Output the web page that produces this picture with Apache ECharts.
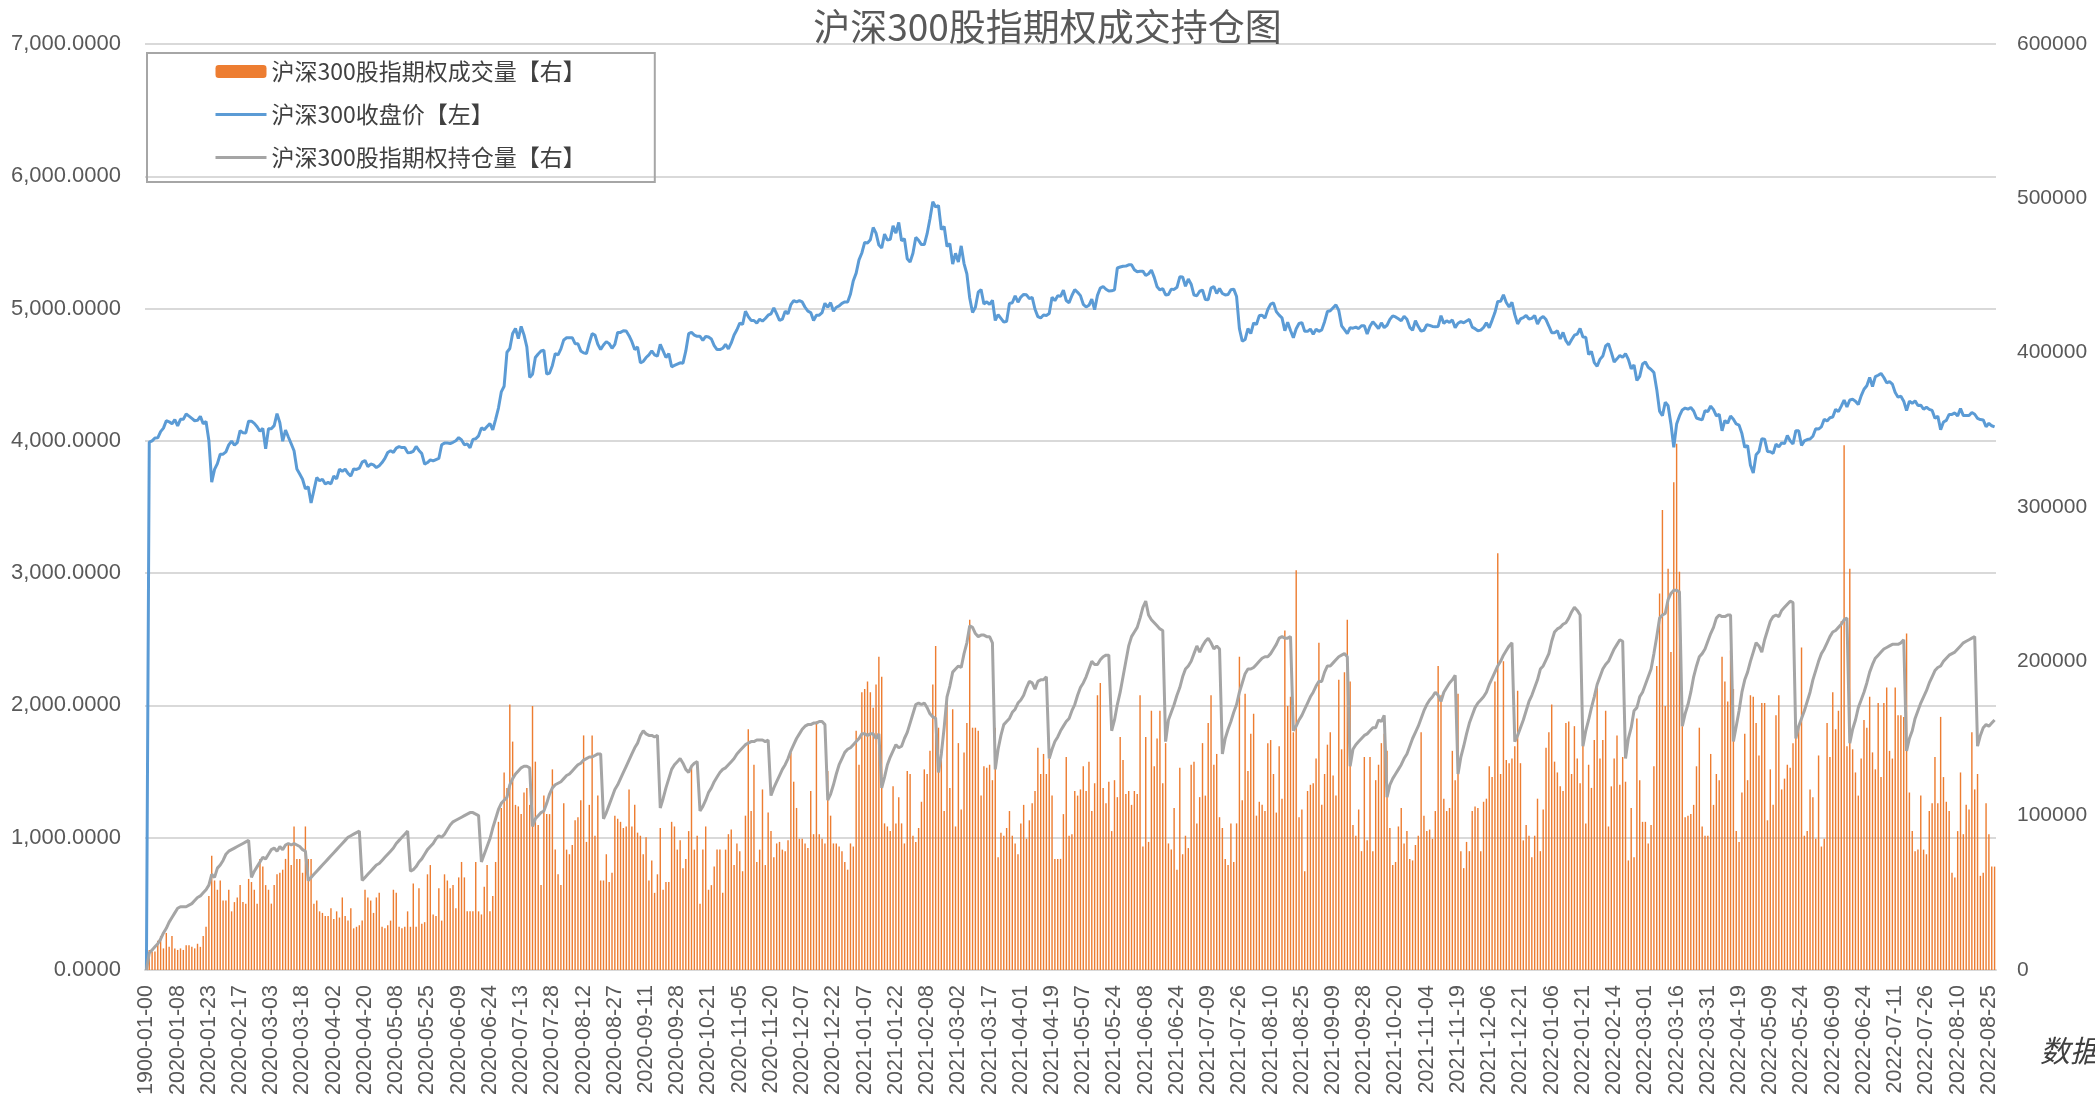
<!DOCTYPE html>
<html>
<head>
<meta charset="utf-8">
<title>沪深300股指期权成交持仓图</title>
<script src="https://cdn.jsdelivr.net/npm/echarts@6/dist/echarts.min.js"></script>
<style>
  html, body { margin: 0; padding: 0; background: #fff; }
  #chart { width: 2095px; height: 1099px; }
</style>
</head>
<body>
<div id="chart"></div>
<script>
// 交易日历：第一行是表里的空行 1900-01-00，之后从 2019-12-24 起的交易日
const firstLabel = '1900-01-00'
const startDay = '2019-12-24'
const holidays = [
  '2020-01-01', '2020-01-24', '2020-01-27', '2020-01-28', '2020-01-29', '2020-01-30', '2020-01-31',
  '2020-04-06', '2020-05-01', '2020-05-04', '2020-05-05', '2020-06-25', '2020-06-26',
  '2020-10-01', '2020-10-02', '2020-10-05', '2020-10-06', '2020-10-07', '2020-10-08',
  '2021-01-01', '2021-02-11', '2021-02-12', '2021-02-15', '2021-02-16', '2021-02-17',
  '2021-04-05', '2021-05-03', '2021-05-04', '2021-05-05', '2021-06-14', '2021-09-20', '2021-09-21',
  '2021-10-01', '2021-10-04', '2021-10-05', '2021-10-06', '2021-10-07',
  '2022-01-03', '2022-01-31', '2022-02-01', '2022-02-02', '2022-02-03', '2022-02-04',
  '2022-04-04', '2022-04-05', '2022-05-02', '2022-05-03', '2022-05-04', '2022-06-03'
]

// 沪深300收盘价【左】
const closePrice = [
  0, 3990, 4000, 4022, 4023, 4070, 4096, 4152, 4144, 4129,
  4160, 4113, 4163, 4164, 4203, 4187, 4170, 4152, 4155, 4185,
  4129, 4146, 4003, 3688, 3784, 3828, 3899, 3899, 3917, 3970,
  3998, 3967, 3987, 4077, 4061, 4060, 4149, 4149, 4132, 4107,
  4073, 4094, 3940, 4091, 4092, 4115, 4206, 4138, 3997, 4082,
  4029, 3978, 3925, 3787, 3749, 3710, 3637, 3653, 3530, 3626,
  3723, 3698, 3710, 3674, 3686, 3675, 3734, 3713, 3786, 3769,
  3786, 3754, 3734, 3788, 3784, 3794, 3839, 3852, 3806, 3825,
  3818, 3798, 3812, 3836, 3867, 3912, 3925, 3913, 3945, 3956,
  3949, 3950, 3911, 3912, 3921, 3958, 3928, 3904, 3824, 3836,
  3856, 3848, 3858, 3867, 3971, 3983, 3983, 3980, 3989, 4001,
  4025, 4007, 3970, 3977, 3948, 4011, 4016, 4038, 4098, 4085,
  4108, 4130, 4084, 4163, 4248, 4370, 4413, 4670, 4698, 4812,
  4850, 4773, 4865, 4801, 4710, 4480, 4503, 4630, 4657, 4679,
  4685, 4505, 4513, 4570, 4660, 4650, 4695, 4763, 4779, 4780,
  4780, 4735, 4734, 4680, 4665, 4660, 4740, 4810, 4800, 4730,
  4690, 4725, 4750, 4735, 4700, 4730, 4820, 4820, 4832, 4830,
  4795, 4750, 4690, 4710, 4590, 4600, 4630, 4650, 4680, 4650,
  4640, 4730, 4680, 4630, 4660, 4560, 4570, 4580, 4590, 4587,
  4680, 4810, 4820, 4800, 4790, 4790, 4760, 4790, 4785, 4770,
  4720, 4690, 4690, 4700, 4730, 4695, 4740, 4800, 4840, 4890,
  4880, 4980, 4940, 4910, 4910, 4890, 4920, 4905, 4925, 4950,
  4960, 5005, 4960, 4910, 4920, 4980, 4960, 5030, 5060, 5050,
  5060, 5050, 5010, 4980, 4970, 4910, 4950, 4950, 4970, 5040,
  5010, 5045, 4980, 5010, 5020, 5040, 5050, 5050, 5110, 5211,
  5268, 5368, 5420, 5500, 5496, 5520, 5613, 5570, 5480, 5458,
  5563, 5517, 5523, 5625, 5570, 5651, 5512, 5528, 5377, 5351,
  5418, 5538, 5516, 5484, 5484, 5566, 5679, 5808, 5768, 5779,
  5597, 5620, 5469, 5491, 5336, 5418, 5352, 5474, 5340, 5262,
  5080, 4970, 5010, 5124, 5143, 5035, 5051, 5031, 5063, 4910,
  4955, 4926, 4897, 4904, 5038, 5044, 5097, 5048, 5087, 5107,
  5104, 5076, 5085, 4995, 4939, 4929, 4951, 4948, 4963, 5085,
  5060, 5097, 5092, 5140, 5061, 5044, 5099, 5143, 5123, 5098,
  5032, 5012, 5025, 5072, 4992, 5100, 5155, 5167, 5146, 5133,
  5134, 5142, 5307, 5314, 5320, 5321, 5331, 5331, 5294, 5278,
  5282, 5283, 5250, 5263, 5291, 5236, 5165, 5141, 5150, 5103,
  5107, 5147, 5145, 5161, 5240, 5239, 5169, 5224, 5184, 5102,
  5097, 5131, 5140, 5069, 5067, 5155, 5167, 5114, 5152, 5114,
  5103, 5107, 5142, 5147, 5091, 4848, 4753, 4766, 4849, 4811,
  4891, 4880, 4947, 4950, 4928, 4993, 5034, 5043, 4977, 4950,
  4930, 4833, 4896, 4834, 4779, 4847, 4887, 4894, 4829, 4828,
  4845, 4805, 4844, 4828, 4839, 4901, 4978, 4984, 5006, 5028,
  4986, 4870, 4840, 4810, 4855, 4852, 4860, 4849, 4870, 4870,
  4808, 4866, 4900, 4876, 4848, 4892, 4856, 4874, 4918, 4945,
  4937, 4923, 4908, 4942, 4919, 4858, 4836, 4908, 4864, 4829,
  4836, 4878, 4873, 4865, 4863, 4865, 4946, 4888, 4908, 4895,
  4914, 4856, 4889, 4901, 4893, 4906, 4918, 4860, 4848, 4833,
  4837, 4857, 4892, 4856, 4911, 4970, 5054, 5055, 5104, 5046,
  5012, 5047, 4954, 4884, 4922, 4931, 4948, 4921, 4926, 4948,
  4883, 4925, 4940, 4917, 4868, 4818, 4818, 4832, 4770, 4820,
  4757, 4726, 4764, 4799, 4807, 4850, 4785, 4784, 4653, 4676,
  4591, 4564, 4616, 4641, 4717, 4735, 4669, 4596, 4620, 4646,
  4631, 4660, 4616, 4545, 4574, 4457, 4488, 4581, 4596, 4556,
  4540, 4517, 4389, 4225, 4190, 4292, 4265, 4128, 3951, 4127,
  4188, 4234, 4248, 4239, 4252, 4226, 4173, 4165, 4159, 4228,
  4222, 4263, 4236, 4189, 4201, 4076, 4154, 4134, 4188, 4164,
  4128, 4119, 4055, 3951, 3966, 3815, 3757, 3895, 3919, 4016,
  4013, 3920, 3918, 3905, 3975, 3955, 3985, 3979, 4040, 4001,
  3976, 4077, 4077, 3965, 4000, 4010, 4014, 4035, 4091, 4090,
  4106, 4164, 4150, 4175, 4180, 4238, 4221, 4263, 4308, 4257,
  4309, 4314, 4300, 4274, 4340, 4390, 4417, 4480, 4411, 4485,
  4496, 4510, 4479, 4438, 4448, 4429, 4365, 4330, 4338, 4300,
  4229, 4300, 4284, 4302, 4267, 4270, 4239, 4254, 4238, 4230,
  4170, 4187, 4085, 4143, 4155, 4200, 4200, 4211, 4189, 4245,
  4191, 4191, 4191, 4214, 4201, 4170, 4161, 4158, 4107, 4133,
  4114, 4106
]

// 沪深300股指期权成交量【右】，单位：千张
const volumeK = [
  0, 13, 12, 12, 19, 22, 14, 24, 15, 22,
  14, 13, 14, 13, 16, 16, 15, 14, 17, 15,
  22, 28, 48, 74, 58, 52, 58, 45, 45, 52,
  38, 44, 47, 55, 44, 43, 59, 57, 52, 43,
  72, 67, 55, 52, 43, 55, 62, 63, 65, 72,
  82, 68, 93, 72, 72, 63, 93, 72, 72, 43,
  45, 38, 37, 35, 35, 40, 33, 38, 34, 47,
  35, 32, 40, 27, 28, 29, 32, 52, 47, 45,
  37, 47, 50, 28, 27, 29, 32, 52, 50, 28,
  27, 28, 38, 28, 56, 28, 53, 30, 31, 62,
  68, 36, 35, 53, 32, 62, 58, 53, 55, 40,
  60, 70, 60, 38, 38, 38, 70, 38, 36, 54,
  68, 38, 48, 70, 96, 105, 128, 118, 172, 148,
  107, 106, 101, 115, 118, 107, 171, 135, 94, 55,
  113, 101, 101, 130, 78, 62, 55, 108, 78, 75,
  81, 97, 99, 110, 152, 83, 107, 152, 87, 113,
  58, 58, 75, 57, 63, 100, 98, 96, 92, 93,
  117, 93, 107, 89, 87, 75, 86, 58, 71, 50,
  62, 92, 52, 57, 57, 96, 93, 78, 84, 66,
  72, 90, 132, 78, 87, 43, 78, 93, 52, 55,
  67, 78, 78, 50, 78, 88, 91, 68, 82, 77,
  64, 100, 156, 103, 133, 70, 78, 117, 68, 102,
  90, 73, 82, 83, 78, 77, 84, 141, 122, 105,
  85, 85, 82, 79, 116, 88, 161, 88, 85, 82,
  129, 100, 82, 82, 80, 77, 70, 65, 82, 80,
  155, 133, 180, 182, 187, 180, 170, 185, 203, 190,
  95, 93, 90, 119, 95, 112, 95, 82, 129, 127,
  87, 83, 92, 109, 130, 127, 142, 185, 210, 157,
  143, 103, 178, 118, 169, 93, 147, 104, 141, 160,
  227, 157, 157, 155, 113, 132, 131, 133, 123, 157,
  73, 89, 87, 92, 103, 87, 82, 75, 95, 107,
  85, 97, 108, 116, 144, 127, 140, 127, 137, 113,
  72, 72, 72, 101, 138, 87, 88, 116, 113, 117,
  132, 116, 135, 103, 121, 178, 186, 118, 108, 122,
  90, 123, 112, 151, 136, 114, 116, 107, 116, 114,
  178, 80, 151, 83, 168, 132, 150, 168, 121, 147,
  82, 78, 105, 65, 131, 75, 87, 79, 133, 135,
  95, 112, 147, 113, 160, 178, 133, 140, 99, 92,
  72, 68, 95, 70, 95, 203, 110, 179, 129, 153,
  166, 100, 109, 107, 103, 147, 149, 127, 102, 145,
  111, 220, 171, 177, 154, 259, 99, 104, 64, 116,
  120, 121, 137, 212, 107, 127, 146, 154, 126, 113,
  188, 143, 193, 227, 187, 94, 87, 104, 77, 138,
  84, 138, 77, 123, 133, 147, 153, 142, 92, 68,
  70, 93, 105, 82, 90, 72, 71, 81, 87, 154,
  100, 90, 91, 85, 103, 197, 178, 111, 103, 105,
  142, 123, 179, 77, 66, 83, 77, 103, 106, 105,
  77, 109, 111, 132, 125, 187, 270, 127, 200, 136,
  134, 137, 145, 181, 134, 84, 94, 87, 73, 87,
  111, 77, 104, 144, 154, 172, 135, 128, 119, 116,
  160, 161, 127, 158, 137, 121, 154, 95, 133, 118,
  149, 183, 137, 149, 168, 93, 119, 137, 152, 120,
  138, 122, 71, 105, 73, 163, 123, 96, 96, 82,
  94, 132, 197, 244, 298, 171, 260, 206, 316, 341,
  258, 158, 99, 100, 101, 107, 132, 157, 93, 87,
  87, 140, 107, 127, 123, 203, 187, 174, 207, 182,
  90, 83, 115, 153, 123, 178, 177, 160, 139, 173,
  173, 97, 130, 107, 165, 178, 117, 124, 133, 131,
  147, 157, 158, 209, 87, 90, 117, 112, 85, 139,
  80, 85, 160, 138, 180, 156, 168, 226, 340, 145,
  260, 143, 128, 113, 137, 162, 157, 177, 141, 130,
  173, 125, 173, 183, 142, 137, 183, 165, 165, 164,
  218, 115, 90, 77, 78, 113, 78, 75, 103, 108,
  138, 108, 164, 125, 109, 103, 63, 60, 90, 128,
  88, 107, 104, 154, 117, 127, 61, 63, 108, 88,
  67, 67
]

// 沪深300股指期权持仓量【右】，单位：千张
const openInterestK = [
  0, 11, 13, 15, 17, 20, 24, 27, 31, 34,
  37, 40, 41, 41, 41, 42, 43, 45, 47, 48,
  50, 52, 55, 62, 60, 66, 68, 71, 75, 77,
  78, 79, 80, 81, 82, 83, 84, 60, 64, 67,
  70, 73, 72, 75, 78, 79, 77, 80, 78, 81,
  82, 81, 82, 81, 80, 78, 77, 58, 60, 62,
  64, 66, 68, 70, 72, 74, 76, 78, 80, 82,
  84, 86, 87, 88, 89, 90, 58, 60, 62, 64,
  66, 68, 69, 71, 73, 75, 77, 79, 82, 84,
  86, 88, 90, 64, 65, 67, 70, 72, 75, 78,
  80, 82, 85, 87, 86, 88, 91, 94, 96, 97,
  98, 99, 100, 101, 102, 102, 101, 100, 70, 75,
  80, 85, 92, 98, 104, 108, 110, 112, 120, 124,
  127, 129, 131, 132, 132, 131, 93, 98, 100, 102,
  103, 108, 114, 118, 120, 121, 122, 124, 126, 127,
  129, 131, 133, 134, 136, 137, 138, 138, 139, 140,
  140, 98, 102, 107, 112, 117, 120, 124, 128, 132,
  136, 140, 144, 147, 152, 155, 153, 152, 152, 151,
  152, 105, 111, 118, 124, 130, 133, 135, 137, 134,
  130, 128, 132, 134, 135, 103, 106, 110, 115, 118,
  122, 125, 128, 130, 131, 133, 135, 137, 140, 142,
  144, 146, 147, 148, 148, 149, 149, 149, 148, 149,
  113, 118, 122, 126, 130, 133, 137, 142, 146, 150,
  153, 156, 158, 159, 159, 160, 160, 161, 161, 159,
  110, 114, 120, 127, 133, 137, 141, 143, 144, 146,
  148, 150, 153, 153, 152, 153, 153, 150, 153, 118,
  125, 133, 138, 142, 146, 144, 145, 150, 154, 160,
  166, 172, 173, 172, 173, 170, 166, 164, 163, 128,
  140, 157, 177, 184, 193, 195, 197, 196, 205, 212,
  223, 222, 218, 216, 217, 217, 216, 216, 212, 130,
  143, 152, 159, 161, 163, 167, 169, 173, 175, 178,
  183, 187, 186, 182, 187, 188, 188, 190, 137, 143,
  148, 151, 155, 158, 161, 163, 168, 172, 178, 183,
  186, 190, 195, 200, 198, 198, 201, 203, 204, 204,
  155, 162, 172, 180, 190, 200, 210, 216, 219, 222,
  228, 235, 239, 230, 227, 225, 223, 221, 220, 148,
  162, 167, 172, 178, 183, 190, 195, 197, 200, 205,
  210, 206, 210, 213, 215, 212, 208, 210, 208, 140,
  150, 156, 161, 167, 172, 180, 186, 192, 195, 195,
  196, 198, 200, 202, 203, 203, 205, 208, 211, 215,
  216, 215, 215, 216, 155, 158, 162, 165, 169, 173,
  177, 180, 184, 187, 187, 193, 197, 197, 199, 201,
  203, 204, 205, 203, 132, 143, 146, 148, 150, 152,
  153, 155, 157, 157, 162, 161, 165, 112, 120, 124,
  127, 130, 133, 137, 140, 145, 150, 154, 158, 163,
  168, 172, 175, 177, 180, 178, 174, 180, 183, 186,
  188, 191, 127, 138, 145, 153, 160, 165, 170, 173,
  175, 177, 180, 185, 189, 193, 197, 200, 204, 207,
  210, 212, 148, 152, 157, 162, 168, 174, 178, 183,
  188, 195, 197, 201, 205, 213, 219, 221, 222, 224,
  225, 228, 232, 235, 233, 230, 145, 155, 162, 170,
  177, 185, 190, 195, 198, 200, 204, 208, 211, 214,
  213, 137, 150, 157, 168, 170, 177, 180, 185, 190,
  195, 205, 216, 228, 230, 231, 240, 244, 246, 246,
  245, 158, 166, 172, 180, 190, 197, 203, 205, 208,
  213, 218, 222, 228, 230, 229, 229, 230, 230, 148,
  158, 168, 180, 188, 193, 200, 206, 212, 210, 206,
  214, 220, 226, 229, 230, 229, 233, 235, 237, 239,
  238, 150, 158, 163, 168, 174, 180, 188, 194, 200,
  205, 208, 212, 216, 219, 220, 222, 224, 227, 228,
  147, 156, 162, 170, 175, 180, 186, 193, 198, 202,
  204, 206, 208, 209, 210, 211, 211, 211, 212, 214,
  142, 150, 155, 163, 168, 173, 177, 181, 186, 190,
  194, 196, 197, 200, 202, 204, 205, 206, 208, 210,
  212, 213, 214, 215, 216, 145, 152, 157, 159, 158,
  160, 162
]

// 生成交易日
const dates = [firstLabel]
const day = new Date(startDay + 'T00:00:00Z')
while (dates.length < closePrice.length) {
  const s = day.toISOString().slice(0, 10)
  const dow = day.getUTCDay()
  if (dow !== 0 && dow !== 6 && !holidays.includes(s)) dates.push(s)
  day.setUTCDate(day.getUTCDate() + 1)
}

const chart = echarts.init(document.getElementById('chart'))

const axisFont = 'Liberation Sans'
const cjkFont = 'Noto Sans CJK SC'

const option = {
  animation: false,
  backgroundColor: '#ffffff',
  title: {
    text: '沪深300股指期权成交持仓图',
    left: 'center',
    top: 8,
    padding: 0,
    textStyle: { fontSize: 37, fontWeight: 'normal', color: '#595959', fontFamily: cjkFont }
  },
  legend: {
    orient: 'vertical',
    left: 147,
    top: 53,
    padding: [7, 69, 13, 67],
    itemGap: 20,
    itemWidth: 51,
    itemHeight: 13,
    borderColor: '#a6a6a6',
    borderWidth: 2,
    textStyle: { fontSize: 23, color: '#404040', fontFamily: cjkFont },
    data: [
      { name: '沪深300股指期权成交量【右】' },
      // 折线图例只画线，不画圆点
      { name: '沪深300收盘价【左】', itemStyle: { opacity: 0 }, lineStyle: { width: 3 } },
      { name: '沪深300股指期权持仓量【右】', itemStyle: { opacity: 0 }, lineStyle: { width: 3 } }
    ]
  },
  grid: { left: 145, right: 99, top: 44, bottom: 129, containLabel: false, outerBoundsMode: 'none' },
  xAxis: {
    type: 'category',
    data: dates,
    boundaryGap: true,
    axisLine: { lineStyle: { color: '#d9d9d9', width: 2 } },
    axisTick: { show: false },
    axisLabel: {
      interval: 10,
      rotate: 90,
      margin: 15,
      fontSize: 21.5,
      color: '#595959',
      fontFamily: axisFont
    }
  },
  yAxis: [
    {
      type: 'value',
      min: 0,
      max: 7000,
      interval: 1000,
      axisLine: { show: false },
      axisTick: { show: false },
      splitLine: { lineStyle: { color: '#d9d9d9', width: 2 } },
      axisLabel: {
        margin: 24,
        fontSize: 22,
        color: '#595959',
        fontFamily: axisFont,
        formatter: v => v.toLocaleString('en-US', { minimumFractionDigits: 4, maximumFractionDigits: 4 })
      }
    },
    {
      type: 'value',
      min: 0,
      max: 600000,
      interval: 100000,
      axisLine: { show: false },
      axisTick: { show: false },
      splitLine: { show: false },
      axisLabel: {
        margin: 21,
        fontSize: 21,
        color: '#595959',
        fontFamily: axisFont,
        formatter: v => String(v)
      }
    }
  ],
  series: [
    {
      name: '沪深300股指期权成交量【右】',
      type: 'bar',
      yAxisIndex: 1,
      barWidth: '50%',
      itemStyle: { color: '#ed7d31' },
      data: volumeK.map(v => v * 1000)
    },
    {
      name: '沪深300收盘价【左】',
      type: 'line',
      yAxisIndex: 0,
      symbol: 'none',
      lineStyle: { color: '#5b9bd5', width: 3 },
      itemStyle: { color: '#5b9bd5' },
      data: closePrice
    },
    {
      name: '沪深300股指期权持仓量【右】',
      type: 'line',
      yAxisIndex: 1,
      symbol: 'none',
      lineStyle: { color: '#a5a5a5', width: 3 },
      itemStyle: { color: '#a5a5a5' },
      data: openInterestK.map(v => v * 1000)
    }
  ],
  graphic: [
    {
      type: 'text',
      left: 2040,
      top: 1036,
      style: {
        text: '数据来源：Wind',
        font: 'italic 30px "Noto Sans CJK SC"',
        fill: '#404040'
      }
    }
  ]
}

chart.setOption(option)
</script>
</body>
</html>
